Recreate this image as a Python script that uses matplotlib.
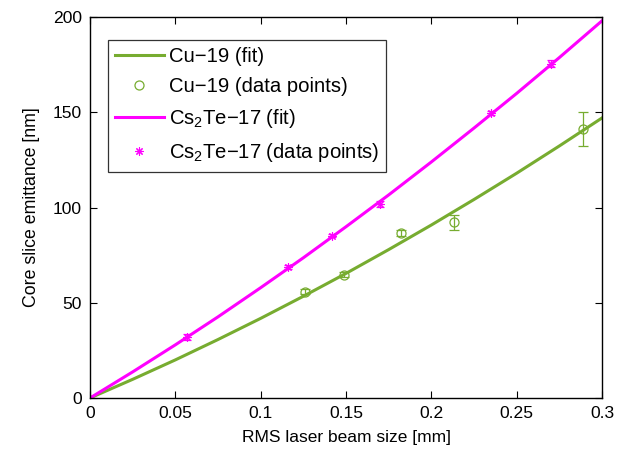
import matplotlib
matplotlib.use("Agg")
import matplotlib.pyplot as plt
from matplotlib.lines import Line2D

plt.rcParams['font.family'] = ['Liberation Sans', 'DejaVu Sans']
plt.rcParams['mathtext.fontset'] = 'custom'
plt.rcParams['mathtext.rm'] = 'Liberation Sans'
plt.rcParams['mathtext.it'] = 'Liberation Sans:italic'

# Fit curves
fit_x = [0, 0.025, 0.05, 0.075, 0.1, 0.125, 0.15, 0.175, 0.2, 0.225, 0.25, 0.275, 0.3]
cu_fit = [0, 9.8, 20.0, 30.7, 41.8, 53.4, 65.4, 77.9, 90.8, 104.2, 118.0, 132.3, 147.0]
cs_fit = [0, 13.7, 27.9, 42.6, 57.9, 73.6, 89.9, 106.6, 123.9, 141.7, 159.9, 178.7, 198.0]

# Data points
cu_x = [0.126, 0.149, 0.182, 0.213, 0.289]
cu_y = [55.8, 64.8, 86.4, 92.2, 141.2]
cu_err = [1.3, 1.3, 1.6, 4.0, 9.0]

cs_x = [0.057, 0.116, 0.142, 0.170, 0.235, 0.270]
cs_y = [32.0, 68.6, 85.3, 101.8, 149.8, 175.4]
cs_err = [1.5, 1.0, 1.0, 1.5, 1.0, 1.8]

labels = ['Cu\u221219 (fit)', 'Cu\u221219 (data points)',
          'Cs$_2$Te\u221217 (fit)', 'Cs$_2$Te\u221217 (data points)']
x_ticks = [0, 0.05, 0.1, 0.15, 0.2, 0.25, 0.3]
x_labels = ['0', '0.05', '0.1', '0.15', '0.2', '0.25', '0.3']
y_ticks = [0, 50, 100, 150, 200]

green = '#77AC30'
magenta = '#FF00FF'
star = (8, 2, 0)

fig = plt.figure(figsize=(6.39, 4.57), dpi=100)
ax = fig.add_axes([90/639, 59/457, 512/639, 381/457])

ax.plot(fit_x, cu_fit, color=green, lw=2.2)
ax.errorbar(cu_x, cu_y, yerr=cu_err, fmt='o', mfc='none', mec=green, ecolor=green,
            ms=6.5, mew=0.9, elinewidth=0.9, capsize=3.5, capthick=0.9)
ax.plot(fit_x, cs_fit, color=magenta, lw=2.2)
ax.errorbar(cs_x, cs_y, yerr=cs_err, fmt='none', ecolor=magenta,
            elinewidth=0.9, capsize=3, capthick=0.9)
ax.plot(cs_x, cs_y, ls='none', marker=star, color=magenta, ms=6, mew=0.8)

ax.set_xlim(0, 0.3)
ax.set_ylim(0, 200)
ax.set_xticks(x_ticks)
ax.set_xticklabels(x_labels)
ax.set_yticks(y_ticks)
ax.tick_params(direction='in', top=True, right=True, labelsize=12.6, length=5, width=0.8, pad=6)
for s in ax.spines.values():
    s.set_linewidth(1.0)

ax.set_xlabel('RMS laser beam size [mm]', fontsize=12.5, labelpad=6)
ax.set_ylabel('Core slice emittance [nm]', fontsize=12.8, labelpad=9)

h2 = [
    Line2D([], [], color=green, lw=2.2),
    Line2D([], [], ls='none', marker='o', mfc='none', mec=green, ms=6.5, mew=0.9),
    Line2D([], [], color=magenta, lw=2.2),
    Line2D([], [], ls='none', marker=star, color=magenta, ms=6, mew=0.8),
]
leg = ax.legend(h2, labels, loc='upper left', bbox_to_anchor=(0.035, 0.94),
                fontsize=14.6, frameon=True, fancybox=False, edgecolor='black',
                handlelength=2.4, handletextpad=0.25, borderpad=0.35, labelspacing=0.55,
                borderaxespad=0)
leg.get_frame().set_linewidth(0.9)

fig.savefig('out.png', dpi=100)
